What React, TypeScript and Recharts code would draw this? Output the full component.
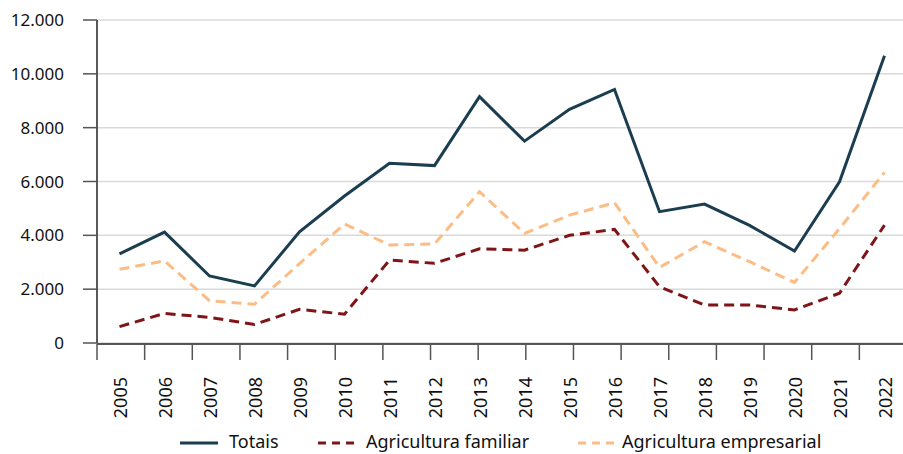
import React from 'react';
import {CartesianGrid, Legend, Line, LineChart, XAxis, YAxis} from 'recharts';

const years = [
  '2005', '2006', '2007', '2008', '2009', '2010', '2011', '2012', '2013',
  '2014', '2015', '2016', '2017', '2018', '2019', '2020', '2021', '2022',
];
const totais = [
  3310, 4120, 2490, 2120, 4130, 5460, 6680, 6590, 9150,
  7500, 8680, 9420, 4880, 5160, 4370, 3420, 5990, 10670,
];
const familiar = [
  610, 1100, 950, 690, 1250, 1070, 3080, 2960, 3500,
  3450, 4000, 4220, 2090, 1410, 1410, 1230, 1850, 4380,
];
const empresarial = [
  2740, 3050, 1570, 1440, 2950, 4420, 3640, 3680, 5620,
  4070, 4750, 5210, 2810, 3760, 3020, 2250, 4250, 6340,
];
const yTicks = [0, 2000, 4000, 6000, 8000, 10000, 12000];
const bandTicks = years.map((_, i) => i).concat(years.length);

const data = years.map((year, i) => ({
  year,
  totais: totais[i],
  familiar: familiar[i],
  empresarial: empresarial[i],
}));

const FONT = '"Noto Sans", "Open Sans", sans-serif';
const C_TOTAIS = '#1b3d50';
const C_FAMILIAR = '#7f1518';
const C_EMPRESARIAL = '#fbbd85';

const fmt = (v: number) => v.toLocaleString('pt-BR');

// year labels hang below the (thin) category axis, rotated
const YearTick = (props: any) => {
  const {x, y, payload} = props;
  const ty = y + 34;
  return (
    <text
      x={x}
      y={ty}
      transform={`rotate(-90, ${x}, ${ty})`}
      textAnchor='end'
      dominantBaseline='central'
      fontSize={18}
      fontFamily={FONT}
      fill='#111'
    >
      {payload.value}
    </text>
  );
};

const legendItems = [
  {label: 'Totais', color: C_TOTAIS, dash: undefined, left: 180, textLeft: 229},
  {label: 'Agricultura familiar', color: C_FAMILIAR, dash: '8 6', left: 318, textLeft: 366},
  {label: 'Agricultura empresarial', color: C_EMPRESARIAL, dash: '8 6', left: 578, textLeft: 622},
];

const LegendContent = () => (
  <div style={{position: 'relative', width: 903, height: 26}}>
    {legendItems.map((it) => (
      <React.Fragment key={it.label}>
        <svg
          width={38}
          height={6}
          style={{position: 'absolute', left: it.left, top: 6}}
        >
          <line
            x1={0}
            y1={3}
            x2={38}
            y2={3}
            stroke={it.color}
            strokeWidth={3}
            strokeDasharray={it.dash}
          />
        </svg>
        <span
          style={{
            position: 'absolute',
            left: it.textLeft,
            top: -5,
            fontSize: 18,
            fontFamily: FONT,
            color: '#111',
            whiteSpace: 'nowrap',
            lineHeight: '24px',
          }}
        >
          {it.label}
        </span>
      </React.Fragment>
    ))}
  </div>
);

export default function App() {
  return (
    <div
      style={{
        position: 'absolute',
        left: 0,
        top: 0,
        width: 903,
        height: 454,
        overflow: 'hidden',
        background: '#fff',
      }}
    >
      <LineChart
        width={910}
        height={460}
        data={data}
        margin={{top: 20, right: 3, left: 0, bottom: 0}}
        style={{fontFamily: FONT}}
      >
        <CartesianGrid
          vertical={false}
          stroke='#dadada'
          strokeWidth={1.5}
          yAxisId='y'
          xAxisId='cat'
        />
        <XAxis
          xAxisId='cat'
          dataKey='year'
          scale='band'
          height={1}
          interval={0}
          tickLine={false}
          axisLine={false}
          tickSize={0}
          tickMargin={0}
          tick={<YearTick />}
        />
        <XAxis
          xAxisId='grid'
          type='number'
          domain={[0, years.length]}
          ticks={bandTicks}
          allowDataOverflow
          height={90}
          tickSize={16}
          tickLine={{stroke: '#555', strokeWidth: 1.5}}
          axisLine={{stroke: '#222', strokeWidth: 1.5}}
          tick={() => <g />}
        />
        <YAxis
          yAxisId='y'
          width={97}
          domain={[0, 12000]}
          ticks={yTicks}
          tickFormatter={fmt}
          tickSize={14}
          tickMargin={19}
          tickLine={{stroke: '#555', strokeWidth: 1.5}}
          axisLine={{stroke: '#222', strokeWidth: 1.5}}
          tick={{fontSize: 17, fill: '#111', fontFamily: FONT}}
        />
        <Legend verticalAlign='bottom' content={<LegendContent />} />
        <Line
          xAxisId='cat'
          yAxisId='y'
          dataKey='totais'
          name='Totais'
          stroke={C_TOTAIS}
          strokeWidth={3}
          dot={false}
          isAnimationActive={false}
        />
        <Line
          xAxisId='cat'
          yAxisId='y'
          dataKey='familiar'
          name='Agricultura familiar'
          stroke={C_FAMILIAR}
          strokeWidth={3}
          strokeDasharray='10 6'
          dot={false}
          isAnimationActive={false}
        />
        <Line
          xAxisId='cat'
          yAxisId='y'
          dataKey='empresarial'
          name='Agricultura empresarial'
          stroke={C_EMPRESARIAL}
          strokeWidth={3}
          strokeDasharray='10 6'
          dot={false}
          isAnimationActive={false}
        />
      </LineChart>
    </div>
  );
}
